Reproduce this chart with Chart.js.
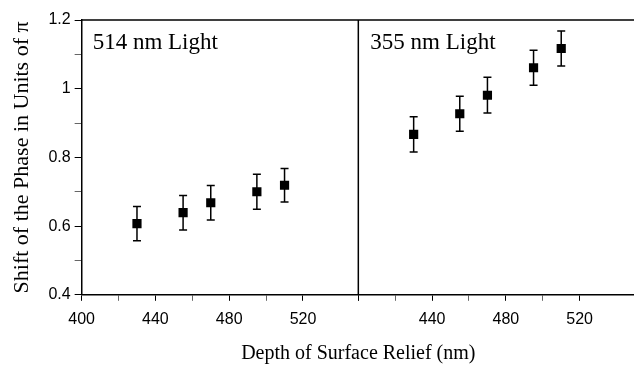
<!DOCTYPE html>
<html>
<head>
<meta charset="utf-8">
<script src="https://cdn.jsdelivr.net/npm/chart.js@4"></script>
<style>
  body { margin: 0; background: #fff; overflow: hidden; }
</style>
</head>
<body>
<canvas id="phaseChart" width="644" height="371"></canvas>
<script>
// depth of the surface relief (nm), same for both wavelengths
let depth = [430, 455, 470, 495, 510];
// phase shift in units of pi, with error
let shift514 = [0.607, 0.639, 0.668, 0.700, 0.719];
let err514 = [0.050, 0.050, 0.050, 0.051, 0.049];
let shift355 = [0.867, 0.927, 0.981, 1.061, 1.117];
let err355 = [0.051, 0.051, 0.052, 0.051, 0.051];

let panelLabels = ['514 nm Light', '355 nm Light'];
let xTicksLeft = [400, 440, 480, 520];
let xTicksRight = [440, 480, 520];
let yTicks = [0.4, 0.6, 0.8, 1, 1.2];

let tickFont = { family: 'Liberation Sans', size: 16 };
let serif = 'Liberation Serif';

function toPoints(xs, ys) {
    return xs.map(function(x, i) { return { x: x, y: ys[i] }; });
}

// vertical error bars, drawn from the y scale
const errorBars = {
    id: 'errorBars',
    beforeDatasetsDraw(chart) {
        const ctx = chart.ctx;
        const yScale = chart.scales.y;
        ctx.save();
        ctx.strokeStyle = '#000';
        ctx.lineWidth = 1.5;
        chart.data.datasets.forEach(function(ds, i) {
            const meta = chart.getDatasetMeta(i);
            meta.data.forEach(function(pt, j) {
                const v = ds.data[j].y;
                const top = yScale.getPixelForValue(v + ds.errors[j]);
                const bot = yScale.getPixelForValue(v - ds.errors[j]);
                ctx.beginPath();
                ctx.moveTo(pt.x, top);
                ctx.lineTo(pt.x, bot);
                ctx.moveTo(pt.x - 4, top);
                ctx.lineTo(pt.x + 4, top);
                ctx.moveTo(pt.x - 4, bot);
                ctx.lineTo(pt.x + 4, bot);
                ctx.stroke();
            });
        });
        ctx.restore();
    }
};

// top border, panel divider and panel captions
const frame = {
    id: 'frame',
    afterDraw(chart) {
        const ctx = chart.ctx;
        const a = chart.chartArea;
        const left = chart.scales.x1;
        const right = chart.scales.x2;
        ctx.save();
        ctx.strokeStyle = '#000';
        ctx.lineWidth = 1.5;
        ctx.beginPath();
        ctx.moveTo(a.left, a.top);
        ctx.lineTo(a.right, a.top);
        ctx.moveTo(right.left, a.top);
        ctx.lineTo(right.left, a.bottom);
        ctx.stroke();
        ctx.fillStyle = '#000';
        ctx.font = '23px ' + serif;
        ctx.textBaseline = 'alphabetic';
        ctx.fillText(panelLabels[0], left.left + 11, a.top + 29);
        ctx.fillText(panelLabels[1], right.left + 12, a.top + 29);
        ctx.restore();
    }
};

function isMajor(list) {
    return function(c) {
        return c.tick && list.includes(Math.round(c.tick.value * 10) / 10) ? '#000' : '#666';
    };
}

function xAxis(labelled) {
    return {
        type: 'linear',
        position: 'bottom',
        stack: 'depth',
        stackWeight: 1,
        min: 400,
        max: 550,
        grid: { display: true, drawOnChartArea: false, tickLength: 6, color: isMajor(labelled.concat([400])), tickWidth: 1 },
        border: { display: true, color: '#000', width: 1.5 },
        ticks: {
            stepSize: 20,
            maxRotation: 0,
            autoSkip: false,
            color: '#000',
            font: tickFont,
            padding: 9,
            callback: function(v) { return labelled.includes(v) ? String(v) : ''; }
        }
    };
}

new Chart(document.getElementById('phaseChart'), {
    type: 'scatter',
    data: {
        datasets: [
            {
                label: panelLabels[0],
                data: toPoints(depth, shift514),
                errors: err514,
                xAxisID: 'x1',
                yAxisID: 'y',
                pointStyle: 'rect',
                pointRadius: 6.5,
                backgroundColor: '#000',
                borderColor: '#000',
                borderWidth: 0
            },
            {
                label: panelLabels[1],
                data: toPoints(depth, shift355),
                errors: err355,
                xAxisID: 'x2',
                yAxisID: 'y',
                pointStyle: 'rect',
                pointRadius: 6.5,
                backgroundColor: '#000',
                borderColor: '#000',
                borderWidth: 0
            }
        ]
    },
    options: {
        responsive: false,
        animation: false,
        layout: { padding: { left: 9, top: 20, right: 0, bottom: 5 } },
        plugins: {
            legend: { display: false },
            tooltip: { enabled: false },
            title: {
                display: true,
                position: 'bottom',
                fullSize: false,
                text: 'Depth of Surface Relief (nm)',
                color: '#000',
                font: { family: serif, size: 20, weight: 'normal' },
                padding: { top: 4, bottom: 0 }
            }
        },
        scales: {
            x1: xAxis(xTicksLeft),
            x2: xAxis(xTicksRight),
            y: {
                type: 'linear',
                min: 0.4,
                max: 1.2,
                grid: { display: true, drawOnChartArea: false, tickLength: 7, color: isMajor(yTicks) },
                border: { display: true, color: '#000', width: 1.5 },
                ticks: {
                    stepSize: 0.1,
                    color: '#000',
                    font: tickFont,
                    padding: 4,
                    callback: function(v) {
                        const r = Math.round(v * 10) / 10;
                        return yTicks.includes(r) ? String(r) : '';
                    }
                },
                title: {
                    display: true,
                    text: 'Shift of the Phase in Units of \u03c0',
                    color: '#000',
                    font: { family: serif, size: 22 },
                    padding: { top: 0, bottom: 9 }
                }
            }
        }
    },
    plugins: [errorBars, frame]
});
</script>
</body>
</html>
